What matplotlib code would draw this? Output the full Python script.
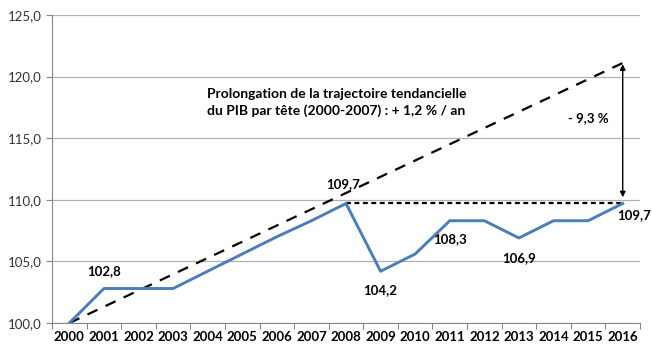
import matplotlib.pyplot as plt
import numpy as np

plt.rcParams['font.family'] = ['Lato', 'DejaVu Sans']

years = [str(y) for y in range(2000, 2017)]
pib = [100.0, 102.8, 102.8, 102.8, 104.2, 105.6, 107.0, 108.3, 109.7,
       104.2, 105.6, 108.3, 108.3, 106.9, 108.3, 108.3, 109.7]
trend_years = [0, 16]
trend_vals = [100.0, 121.1]
plateau_years = [8, 16]
plateau_vals = [109.7, 109.7]
labels = {1: "102,8", 8: "109,7", 9: "104,2", 11: "108,3", 13: "106,9", 16: "109,7"}


def main():
    fig = plt.figure(figsize=(6.52, 3.57), dpi=100)
    ax = fig.add_axes([0.0798, 0.0952, 0.9018, 0.863])
    x = np.arange(len(years))

    ax.plot(trend_years, trend_vals, color="black", lw=1.6, ls=(0, (5, 4)), zorder=3)
    ax.plot(plateau_years, plateau_vals, color="black", lw=1.6, ls=(0, (2.2, 1.6)), zorder=3)
    ax.plot(x, pib, color="#4A7EBB", lw=2.1, zorder=4)

    offsets = {1: (0, 8, "bottom"), 8: (-2, 10, "bottom"),
               9: (0, -9, "top"), 11: (0, -9, "top"),
               13: (0, -10, "top"), 16: (8, -4, "top")}
    for i, txt in labels.items():
        dx, dy, va = offsets[i]
        ax.annotate(txt, (x[i], pib[i]), xytext=(dx, dy), textcoords="offset points",
                    ha="center", va=va, fontsize=9.5, fontweight="bold")

    ax.annotate("", xy=(16.0, 121.0), xytext=(16.0, 110.2),
                arrowprops=dict(arrowstyle="<|-|>", color="black", lw=1.0,
                                mutation_scale=8, shrinkA=0, shrinkB=0))
    ax.text(15.0, 116.6, "- 9,3 %", fontsize=9.5, fontweight="bold", ha="center", va="center")
    ax.text(7.72, 117.9, "Prolongation de la trajectoire tendancielle\ndu PIB par tête (2000-2007) : + 1,2 % / an",
            fontsize=10, fontweight="bold", ha="center", va="center", linespacing=1.35)

    ax.set_xlim(-0.5, 16.5)
    ax.set_ylim(100, 125)
    ax.set_yticks(np.arange(100, 126, 5))
    ax.set_yticklabels([f"{v:.1f}".replace(".", ",") for v in np.arange(100, 126, 5)],
                       fontsize=9.5, color="#333333")
    ax.set_xticks(np.arange(-0.5, 17, 1))
    ax.set_xticklabels([])
    ax.set_xticks(x, minor=True)
    ax.set_xticklabels(years, minor=True, fontsize=9.5, fontweight="bold")
    ax.tick_params(axis="x", which="minor", length=0, pad=6)
    ax.tick_params(axis="x", which="major", length=4, color="#868686")
    ax.tick_params(axis="y", length=4, color="#868686")

    ax.grid(axis="y", color="#B0B0B0", lw=0.9)
    ax.set_axisbelow(True)
    for s in ["top", "right"]:
        ax.spines[s].set_visible(False)
    for s in ["left", "bottom"]:
        ax.spines[s].set_color("#868686")

    fig.savefig("out.png", dpi=100)


if __name__ == "__main__":
    main()
